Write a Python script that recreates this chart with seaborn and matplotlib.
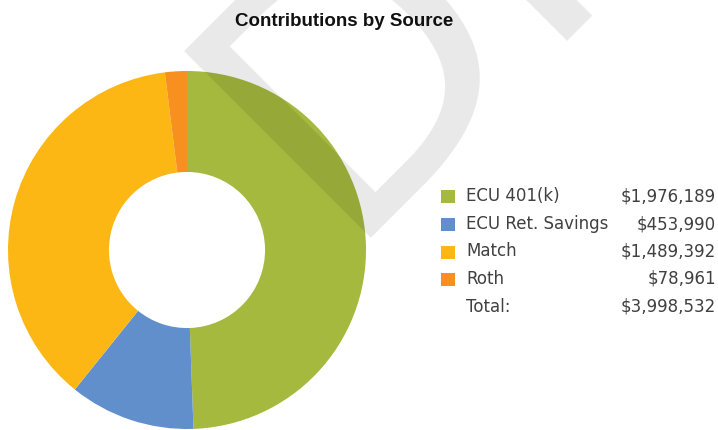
import matplotlib
matplotlib.use("Agg")
import matplotlib.pyplot as plt
from matplotlib.patches import Rectangle
import seaborn as sns

# Contribution data
sources = ["ECU 401(k)", "ECU Ret. Savings", "Match", "Roth"]
amounts = [1976189, 453990, 1489392, 78961]
colors = ["#A5B93E", "#618FCC", "#FDB714", "#F7901E"]
title = "Contributions by Source"
total_label = "Total:"

sns.set_theme(style="white")
plt.rcParams["font.family"] = ["DejaVu Sans"]

W, H = 718, 430
fig = plt.figure(figsize=(W / 100, H / 100), dpi=100)
fig.patch.set_facecolor("white")


def fx(px):
    return px / W


def fy(py):
    return 1 - py / H


# Donut
cx, cy, r = 187, 250, 179
ax = fig.add_axes([fx(cx - r), fy(cy + r), 2 * r / W, 2 * r / H])
palette = sns.color_palette(colors)
ax.pie(amounts, colors=palette, startangle=90, counterclock=False,
       radius=1.0, wedgeprops=dict(width=0.564, linewidth=0))
ax.set_xlim(-1, 1)
ax.set_ylim(-1, 1)
ax.set_aspect("equal")
ax.axis("off")

# Title
fig.text(fx(344), fy(26), title, ha="center", va="baseline",
         fontsize=13.5, fontweight="bold", family="Liberation Sans",
         color="#111111")

# Legend with amounts
text_color = "#404040"
baselines = [201, 229, 256.5, 284]
for name, amt, col, yb in zip(sources, amounts, palette, baselines):
    fig.patches.append(Rectangle((fx(441), fy(yb + 2)), 14 / W, 13 / H,
                                 transform=fig.transFigure, facecolor=col,
                                 edgecolor="none"))
    fig.text(fx(466), fy(yb), name, ha="left", va="baseline",
             fontsize=12, color=text_color)
    fig.text(fx(716), fy(yb), f"${amt:,}", ha="right", va="baseline",
             fontsize=12, color=text_color)
fig.text(fx(466), fy(311.5), total_label, ha="left", va="baseline",
         fontsize=12, color=text_color)
fig.text(fx(716), fy(311.5), f"${sum(amounts):,}", ha="right",
         va="baseline", fontsize=12, color=text_color)

# DRAFT watermark
fig.text(fx(335), fy(238), "DRAFT", rotation=45, rotation_mode="anchor",
         ha="left", va="baseline", fontsize=261, color="black", alpha=0.09,
         zorder=10)

fig.savefig("out.png", dpi=100, facecolor="white")
